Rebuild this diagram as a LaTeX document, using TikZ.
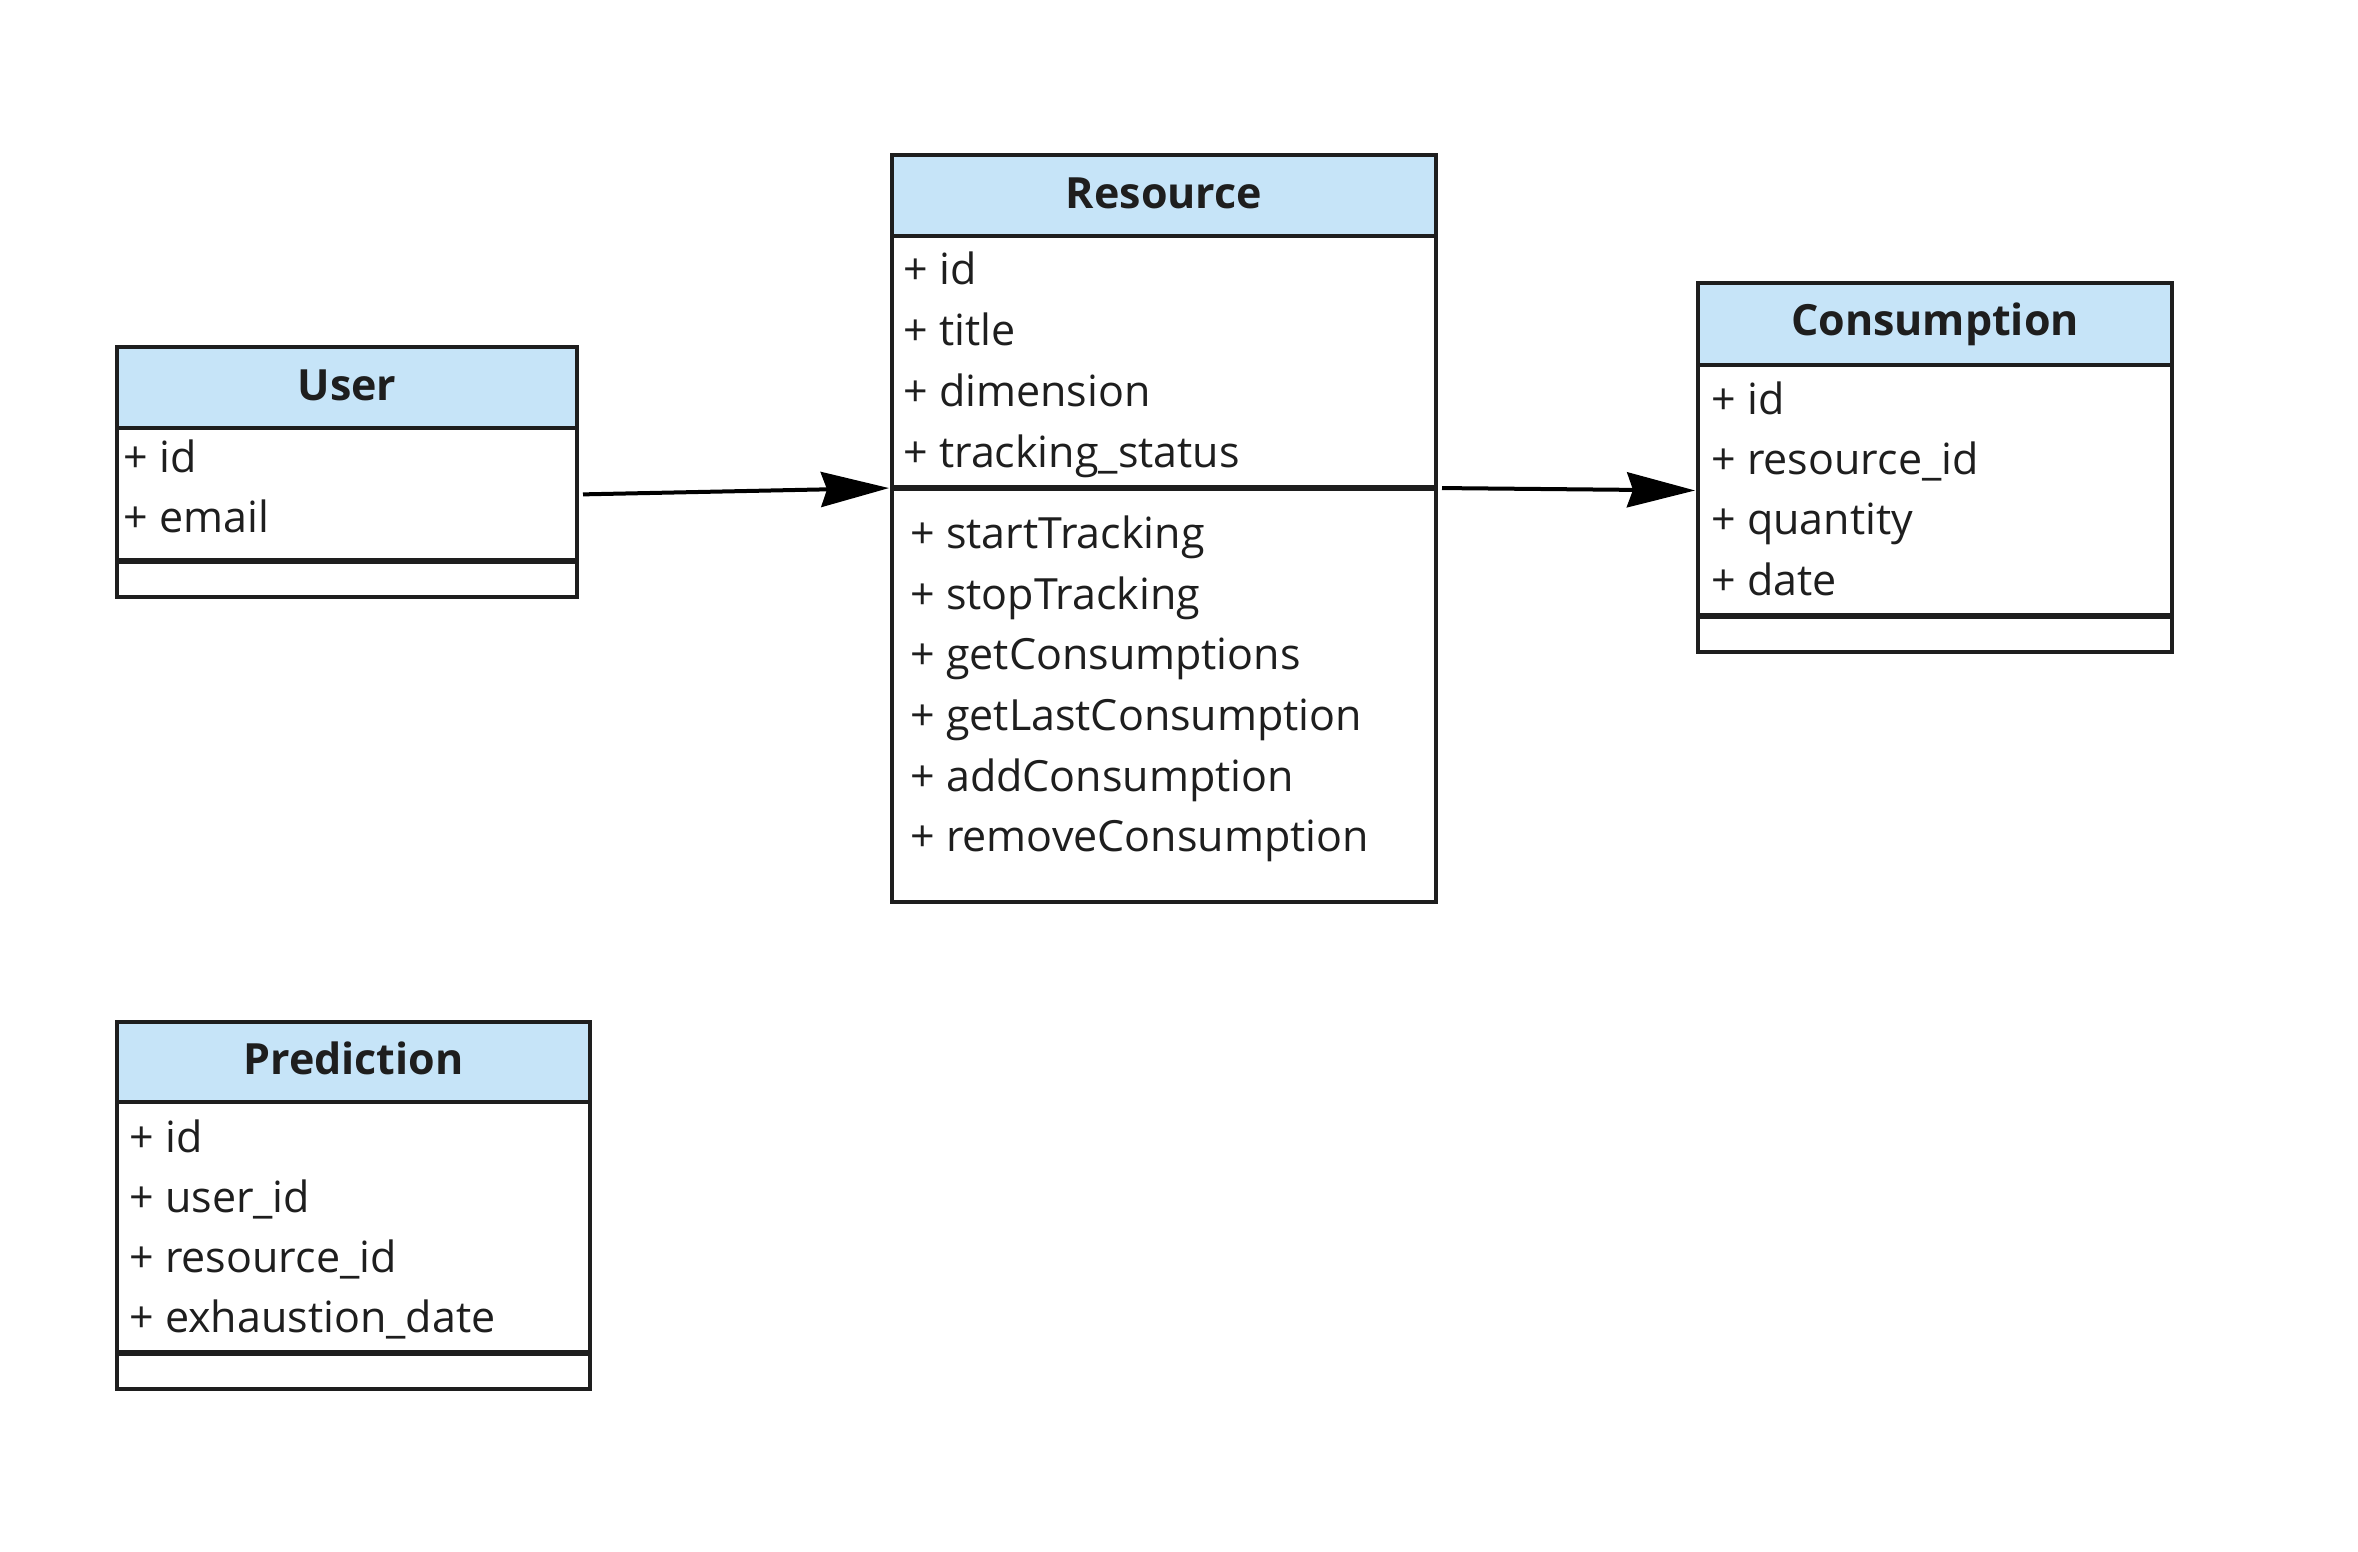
\documentclass[tikz,border=0pt]{standalone}
\usepackage{fontspec}
\setmainfont{Open Sans}
\usetikzlibrary{arrows.meta}
\definecolor{hdr}{RGB}{198,228,248}
\definecolor{ink}{RGB}{30,30,30}
\begin{document}
\begin{tikzpicture}[x=0.5pt,y=-0.5pt,
  box/.style={draw=ink, line width=1.8pt, inner sep=0pt, outer sep=0pt, anchor=north west, fill=white},
  head/.style={box, fill=hdr},
  title/.style={anchor=base, font=\fontsize{21.5}{26}\selectfont\bfseries, text=ink, inner sep=0pt},
  item/.style={anchor=base west, font=\fontsize{21.5}{26}\selectfont, text=ink, inner sep=0pt},
  sep/.style={draw=ink, line width=2.6pt},
  link/.style={draw=black, line width=2pt, -{Stealth[length=34pt,width=17.5pt,inset=3pt]}, shorten <=3pt, shorten >=1.5pt}
]
\useasboundingbox[fill=white] (0,0) rectangle (2358,1552);

% User class
\node[head, minimum width=230pt, minimum height=40.5pt] (user) at (117,347) {};
\node[box, minimum width=230pt, minimum height=66.5pt] (user-attr) at (117,428) {};
\node[box, minimum width=230pt, minimum height=18pt] (user-ops) at (117,561) {};
\draw[sep] (user-attr.south west) -- (user-attr.south east);
\node[title] (user-t) at (347,400) {User};
\node[item] (user-a1) at (123,472) {+ id};
\node[item] (user-a2) at (123,532) {+ email};

% Resource class
\node[head, minimum width=272pt, minimum height=40.5pt] (res) at (892,155) {};
\node[box, minimum width=272pt, minimum height=126pt] (res-attr) at (892,236) {};
\node[box, minimum width=272pt, minimum height=207pt] (res-ops) at (892,488) {};
\draw[sep] (res-attr.south west) -- (res-attr.south east);
\node[title] (res-t) at (1164,209) {Resource};
\node[item] (res-a1) at (903,285) {+ id};
\node[item] (res-a2) at (903,345) {+ title};
\node[item] (res-a3) at (903,406) {+ dimension};
\node[item] (res-a4) at (903,467) {+ tracking\_status};
\node[item] (res-m1) at (910,548) {+ startTracking};
\node[item] (res-m2) at (910,609) {+ stopTracking};
\node[item] (res-m3) at (910,669) {+ getConsumptions};
\node[item] (res-m4) at (910,730) {+ getLastConsumption};
\node[item] (res-m5) at (910,791) {+ addConsumption};
\node[item] (res-m6) at (910,851) {+ removeConsumption};

% Consumption class
\node[head, minimum width=237pt, minimum height=41pt] (cons) at (1698,283) {};
\node[box, minimum width=237pt, minimum height=125.5pt] (cons-attr) at (1698,365) {};
\node[box, minimum width=237pt, minimum height=18pt] (cons-ops) at (1698,616) {};
\draw[sep] (cons-attr.south west) -- (cons-attr.south east);
\node[title] (cons-t) at (1935,335) {Consumption};
\node[item] (cons-a1) at (1711,414) {+ id};
\node[item] (cons-a2) at (1711,474) {+ resource\_id};
\node[item] (cons-a3) at (1711,534) {+ quantity};
\node[item] (cons-a4) at (1711,595) {+ date};

% Prediction class
\node[head, minimum width=236.5pt, minimum height=40pt] (pred) at (117,1022) {};
\node[box, minimum width=236.5pt, minimum height=125.5pt] (pred-attr) at (117,1102) {};
\node[box, minimum width=236.5pt, minimum height=18pt] (pred-ops) at (117,1353) {};
\draw[sep] (pred-attr.south west) -- (pred-attr.south east);
\node[title] (pred-t) at (353.5,1074) {Prediction};
\node[item] (pred-a1) at (129,1152) {+ id};
\node[item] (pred-a2) at (129,1212) {+ user\_id};
\node[item] (pred-a3) at (129,1272) {+ resource\_id};
\node[item] (pred-a4) at (129,1332) {+ exhaustion\_date};

% Associations
\draw[link] (user-attr.east) -- (res-attr.south west);
\draw[link] (res-attr.south east) -- (cons-attr.west);
\end{tikzpicture}
\end{document}
